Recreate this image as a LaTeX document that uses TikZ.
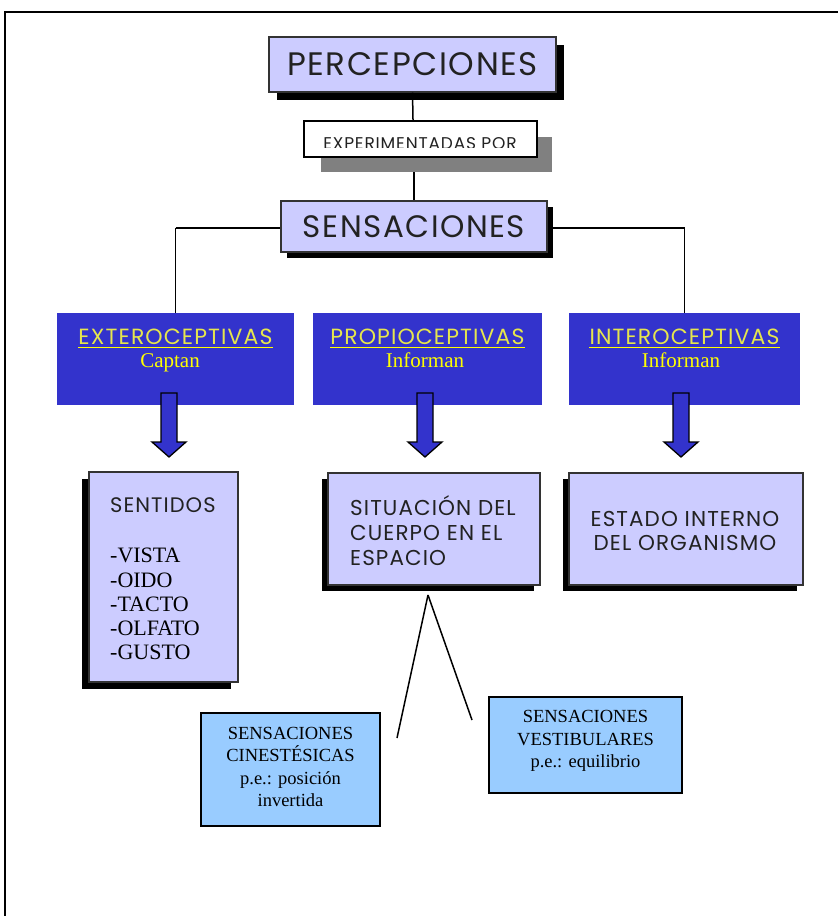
\documentclass[tikz,border=0pt]{standalone}
\usepackage{fontspec}
\setmainfont{Liberation Serif}
\setsansfont{Poppins}
\newfontfamily\gsans{Poppins}[LetterSpace=5]
\usetikzlibrary{shadows}
\definecolor{lav}{HTML}{CCCCFF}
\definecolor{dblue}{HTML}{3333CC}
\definecolor{lblue}{HTML}{99CCFF}
\definecolor{ylw}{HTML}{FFFF00}
\definecolor{ttl}{HTML}{E6E64D}
\definecolor{txt}{HTML}{222222}
\tikzset{
  lavbox/.style={draw=black!80, line width=1.3pt, fill=lav, inner sep=0pt, anchor=center},
  shR/.style={drop shadow={shadow xshift=#1pt, shadow yshift=-#1pt, fill=black, opacity=1}},
  shL/.style={drop shadow={shadow xshift=-#1pt, shadow yshift=-#1pt, fill=black, opacity=1}},
  bluebox/.style={fill=dblue, inner sep=0pt},
  ltbox/.style={draw=black, line width=1.3pt, fill=lblue, inner sep=0pt},
  conn/.style={line width=1.5pt, draw=black},
  ttlfont/.style={font=\gsans\fontsize{22}{24}\selectfont, text=ttl, inner sep=0pt},
  subfont/.style={font=\rmfamily\fontsize{21}{23}\selectfont, text=ylw, inner sep=0pt},
  pics/downarrow/.style={code={
    \draw[line width=1.3pt, fill=dblue, line join=miter]
      (-8,0) -- (8,0) -- (8,49) -- (17,49) -- (0,64) -- (-17,49) -- (-8,49) -- cycle;
  }}
}
\begin{document}
\begin{tikzpicture}[x=1pt,y=-1pt]
\useasboundingbox (0,0) rectangle (838,916);
\draw[line width=1.5pt] (5,916) -- (5,12) -- (838,12);

% top
\node[lavbox, shR=8, minimum width=287pt, minimum height=55pt,
  font=\gsans\fontsize{32.5}{34}\selectfont, text=txt] (perc) at (412.5,64.5) {PERCEPCIONES};
\coordinate (expS) at (414,172);
\draw[conn] (perc.south) -- (expS);
\fill[black!50] (321,137) rectangle (552,172);
\node[draw=black, line width=1.3pt, fill=white, minimum width=233pt, minimum height=36pt, inner sep=0pt] (exp) at (420.5,139) {};
\begin{scope}
  \clip (305,122) rectangle (536,147.5);
  \node[font=\gsans\fontsize{17}{19}\selectfont, text=txt, anchor=base, inner sep=0pt] (expt) at (420,149.5) {EXPERIMENTADAS POR};
\end{scope}

% horizontal connector
\coordinate (hl) at (175.5,228);
\coordinate (hr) at (684.5,228);
\draw[conn] (hl) -- (hr);
\node[lavbox, shR=6, minimum width=266pt, minimum height=51pt,
  font=\gsans\fontsize{31}{33}\selectfont, text=txt] (sens) at (414,226.5) {SENSACIONES};
\draw[conn] (expS) -- (sens.north);

% blue boxes
\node[bluebox, minimum width=237pt, minimum height=92pt] (exter) at (175.5,359) {};
\node[bluebox, minimum width=229pt, minimum height=92pt] (prop) at (427.5,359) {};
\node[bluebox, minimum width=231pt, minimum height=92pt] (inter) at (684.5,359) {};
\draw[conn] (hl) -- (exter.north);
\draw[conn] (hr) -- (inter.north);

\node[ttlfont, anchor=base] (t1) at (175.5,344) {EXTEROCEPTIVAS};
\node[ttlfont, anchor=base] (t2) at (427.5,344) {PROPIOCEPTIVAS};
\node[ttlfont, anchor=base] (t3) at (684.5,344) {INTEROCEPTIVAS};
\foreach \t in {t1,t2,t3}
  \draw[ylw, line width=1.8pt] ([yshift=-3.5pt]\t.base west) -- ([yshift=-3.5pt]\t.base east);
\node[subfont, anchor=base] (s1) at (170,367) {Captan};
\node[subfont, anchor=base] (s2) at (425,367) {Informan};
\node[subfont, anchor=base] (s3) at (681,367) {Informan};

% arrows
\pic at (169,393) {downarrow};
\pic at (425,393) {downarrow};
\pic at (681,393) {downarrow};

% lower lavender boxes
\node[lavbox, shL=7, minimum width=149pt, minimum height=210pt] (sent) at (163.5,577) {};
\node[font=\gsans\fontsize{21}{23}\selectfont, text=txt, anchor=base west, inner sep=0pt] (sentT) at (110,512) {SENTIDOS};
\node[font=\rmfamily\fontsize{22}{24.3}\selectfont, text=black, anchor=north west, align=left, inner sep=0pt] (sentL) at (110,548)
  {-VISTA\\-OIDO\\-TACTO\\-OLFATO\\-GUSTO};

\node[lavbox, shL=6, minimum width=212pt, minimum height=112pt] (sit) at (434,529) {};
\node[font=\gsans\fontsize{21.5}{25}\selectfont, text=txt, anchor=north west, align=left, inner sep=0pt] (sitT) at (350,495)
  {SITUACIÓN DEL\\CUERPO EN EL\\ESPACIO};

\node[lavbox, shL=6, minimum width=234pt, minimum height=112pt] (est) at (686,529) {};
\node[font=\gsans\fontsize{21.5}{24}\selectfont, text=txt, anchor=center, align=center, inner sep=0pt] (estT) at (685,531)
  {ESTADO INTERNO\\DEL ORGANISMO};

% diverging lines
\coordinate (apex) at (428,595);
\coordinate (la) at (397,738);
\coordinate (ra) at (472,720);
\draw[conn] (apex) -- (la);
\draw[conn] (apex) -- (ra);

% light blue boxes
\node[ltbox, minimum width=179pt, minimum height=113pt] (cin) at (290.5,769.5) {};
\node[font=\rmfamily\fontsize{18.5}{22.5}\selectfont, align=center, inner sep=0pt] (cinT) at (290.5,767)
  {SENSACIONES\\CINESTÉSICAS\\p.e.: posición\\invertida};
\node[ltbox, minimum width=193pt, minimum height=96pt] (ves) at (585.5,745) {};
\node[font=\rmfamily\fontsize{18.5}{22.5}\selectfont, align=center, inner sep=0pt] (vesT) at (585.5,741)
  {SENSACIONES\\VESTIBULARES\\p.e.: equilibrio};
\end{tikzpicture}
\end{document}
